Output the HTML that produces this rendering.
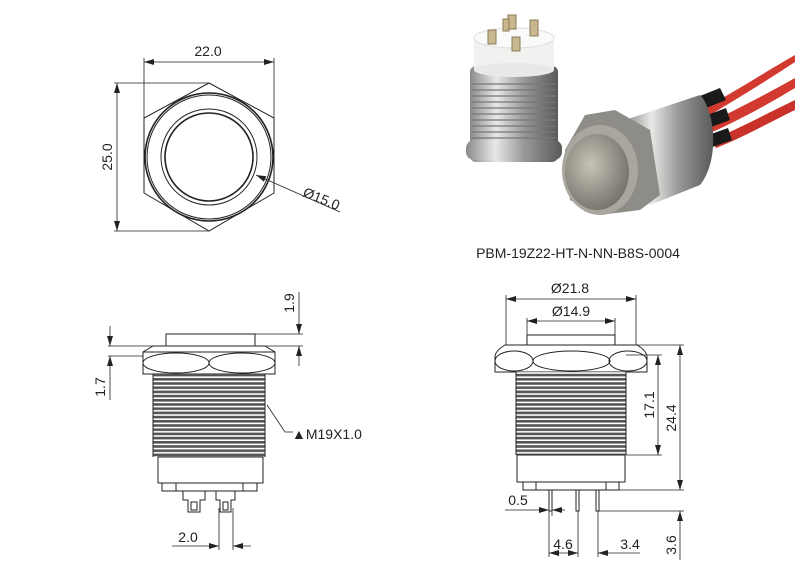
<!DOCTYPE html>
<html><head><meta charset="utf-8"><style>
html,body{margin:0;padding:0;background:#fff}
svg{display:block}
text{font-family:"Liberation Sans",sans-serif;font-size:14px;fill:#222}
</style></head><body>
<svg width="800" height="574" viewBox="0 0 800 574" xmlns="http://www.w3.org/2000/svg">
<defs>
<marker id="a" viewBox="0 0 10 6" refX="10" refY="3" markerWidth="10" markerHeight="6" orient="auto-start-reverse" markerUnits="userSpaceOnUse"><path d="M0,0L10,3L0,6z" fill="#222"/></marker>
<pattern id="th" width="8" height="4.2" patternUnits="userSpaceOnUse"><rect width="8" height="4.2" fill="#fff"/><rect y="0" width="8" height="2.6" fill="#555"/></pattern>
<linearGradient id="met" x1="0" x2="1"><stop offset="0" stop-color="#8a8a88"/><stop offset=".3" stop-color="#e8e8e6"/><stop offset=".6" stop-color="#9a9a98"/><stop offset="1" stop-color="#5a5a58"/></linearGradient>
<radialGradient id="face" cx=".4" cy=".4" r=".7"><stop offset="0" stop-color="#c8c3b8"/><stop offset="1" stop-color="#6e6a62"/></radialGradient>
</defs>
<g stroke="#222" fill="none" stroke-width="1">
<polygon points="209,83 274,118 274,193 209,231 144,193 144,118"/>
<circle cx="209" cy="157" r="64" stroke-width="1.6"/>
<circle cx="209" cy="157" r="62"/>
<circle cx="209" cy="157" r="48"/>
<circle cx="209" cy="157" r="44" stroke-width="1.6"/>
<line x1="144" y1="118" x2="144" y2="58" stroke-width=".8"/>
<line x1="274" y1="118" x2="274" y2="58" stroke-width=".8"/>
<line x1="144" y1="62" x2="274" y2="62" stroke-width=".8" marker-start="url(#a)" marker-end="url(#a)"/>
<line x1="114" y1="83" x2="209" y2="83" stroke-width=".8"/>
<line x1="114" y1="231" x2="209" y2="231" stroke-width=".8"/>
<line x1="117" y1="83" x2="117" y2="231" stroke-width=".8" marker-start="url(#a)" marker-end="url(#a)"/>
<line x1="340" y1="212" x2="256" y2="175" stroke-width=".8" marker-end="url(#a)"/>

<rect x="166" y="334" width="89" height="12"/>
<path d="M143,374 V352 L153,346 H265 L275,352 V374 Z"/>
<path d="M143,352 H275"/>
<ellipse cx="176" cy="363" rx="33" ry="10"/><ellipse cx="242" cy="363" rx="33" ry="10"/>
<rect x="153" y="374" width="112" height="83" fill="url(#th)" stroke="none"/>
<line x1="153" y1="374" x2="153" y2="457"/><line x1="265" y1="374" x2="265" y2="457"/>
<rect x="158" y="457" width="105" height="26"/>
<rect x="162" y="483" width="95" height="8"/>
<line x1="176" y1="483" x2="176" y2="491"/><line x1="243" y1="483" x2="243" y2="491"/>
<path d="M183,491 V500 H188 V512 H200 V500 H205 V491"/>
<path d="M216,491 V500 H220 V512 H231 V500 H235 V491"/>
<rect x="191" y="502" width="6" height="8"/><rect x="223" y="502" width="5" height="8"/>
<line x1="255" y1="334" x2="303" y2="334" stroke-width=".8"/>
<line x1="108" y1="346" x2="303" y2="346" stroke-width=".8"/>
<line x1="108" y1="356" x2="143" y2="356" stroke-width=".8"/>
<line x1="299" y1="292" x2="299" y2="334" stroke-width=".8" marker-end="url(#a)"/>
<line x1="299" y1="366" x2="299" y2="346" stroke-width=".8" marker-end="url(#a)"/>
<line x1="110" y1="326" x2="110" y2="346" stroke-width=".8" marker-end="url(#a)"/>
<line x1="110" y1="400" x2="110" y2="356" stroke-width=".8" marker-end="url(#a)"/>
<polyline points="267,405 285,432 293,432" stroke-width=".8"/>
<line x1="219" y1="508" x2="219" y2="550" stroke-width=".8"/>
<line x1="233" y1="508" x2="233" y2="550" stroke-width=".8"/>
<line x1="172" y1="546" x2="219" y2="546" stroke-width=".8" marker-end="url(#a)"/>
<line x1="251" y1="546" x2="233" y2="546" stroke-width=".8" marker-end="url(#a)"/>

<rect x="527" y="335" width="88" height="10"/>
<path d="M495,372 V357 Q495,351 505,345 H637 Q647,351 647,357 V372 Z"/>
<ellipse cx="514" cy="361" rx="19" ry="10"/><ellipse cx="571.5" cy="361" rx="38.5" ry="10"/><ellipse cx="628" cy="361" rx="19" ry="10"/>
<rect x="516" y="372" width="110" height="83" fill="url(#th)" stroke="none"/>
<line x1="516" y1="372" x2="516" y2="455"/><line x1="626" y1="372" x2="626" y2="455"/>
<rect x="517" y="455" width="108" height="27"/>
<rect x="523" y="482" width="96" height="8"/>
<line x1="536" y1="482" x2="536" y2="490"/><line x1="606" y1="482" x2="606" y2="490"/>
<rect x="549" y="490" width="3" height="21"/><rect x="576" y="490" width="3" height="21"/><rect x="596" y="490" width="3" height="21"/>
<line x1="506" y1="345" x2="506" y2="295" stroke-width=".8"/>
<line x1="636" y1="345" x2="636" y2="295" stroke-width=".8"/>
<line x1="506" y1="299" x2="636" y2="299" stroke-width=".8" marker-start="url(#a)" marker-end="url(#a)"/>
<line x1="527" y1="335" x2="527" y2="318" stroke-width=".8"/>
<line x1="615" y1="335" x2="615" y2="318" stroke-width=".8"/>
<line x1="527" y1="321" x2="615" y2="321" stroke-width=".8" marker-start="url(#a)" marker-end="url(#a)"/>
<line x1="626" y1="355" x2="662" y2="355" stroke-width=".8"/>
<line x1="626" y1="455" x2="662" y2="455" stroke-width=".8"/>
<line x1="658" y1="355" x2="658" y2="455" stroke-width=".8" marker-start="url(#a)" marker-end="url(#a)"/>
<line x1="637" y1="345" x2="684" y2="345" stroke-width=".8"/>
<line x1="619" y1="490" x2="684" y2="490" stroke-width=".8"/>
<line x1="680" y1="345" x2="680" y2="490" stroke-width=".8" marker-start="url(#a)" marker-end="url(#a)"/>
<line x1="599" y1="511" x2="684" y2="511" stroke-width=".8"/>
<line x1="680" y1="560" x2="680" y2="511" stroke-width=".8" marker-end="url(#a)"/>
<line x1="549" y1="511" x2="549" y2="557" stroke-width=".8"/>
<line x1="552" y1="511" x2="552" y2="516" stroke-width=".8"/>
<line x1="578" y1="511" x2="578" y2="557" stroke-width=".8"/>
<line x1="598" y1="511" x2="598" y2="557" stroke-width=".8"/>
<line x1="505" y1="510" x2="549" y2="510" stroke-width=".8" marker-end="url(#a)"/>
<line x1="565" y1="510" x2="552" y2="510" stroke-width=".8" marker-end="url(#a)"/>
<line x1="549" y1="553" x2="578" y2="553" stroke-width=".8" marker-start="url(#a)" marker-end="url(#a)"/>
<line x1="640" y1="553" x2="598" y2="553" stroke-width=".8" marker-end="url(#a)"/>
</g>

<g>
<rect x="470" y="66" width="88" height="96" rx="6" fill="url(#met)"/>
<g stroke="#777" stroke-width="1.2">
<line x1="472" y1="84" x2="556" y2="84"/><line x1="472" y1="90" x2="556" y2="90"/><line x1="472" y1="96" x2="556" y2="96"/><line x1="472" y1="102" x2="556" y2="102"/><line x1="472" y1="108" x2="556" y2="108"/><line x1="472" y1="114" x2="556" y2="114"/><line x1="472" y1="120" x2="556" y2="120"/><line x1="472" y1="126" x2="556" y2="126"/><line x1="472" y1="132" x2="556" y2="132"/><line x1="472" y1="138" x2="556" y2="138"/>
</g>
<rect x="466" y="140" width="96" height="20" rx="8" fill="url(#met)"/>
<rect x="474" y="38" width="80" height="32" fill="#f1f1ef"/>
<ellipse cx="514" cy="70" rx="40" ry="7" fill="#e8e8e6"/>
<ellipse cx="514" cy="38" rx="40" ry="10" fill="#fafafa" stroke="#ddd"/>
<g fill="#c9b88f" stroke="#8a7a55"><rect x="488" y="30" width="8" height="14"/><rect x="508" y="15" width="8" height="14"/><rect x="530" y="20" width="8" height="16"/><rect x="512" y="37" width="8" height="14"/><rect x="503" y="19" width="6" height="12"/></g>
<path d="M700,110 C730,95 760,75 795,55 L795,62 C765,82 735,100 705,118 Z" fill="#d23a30"/>
<path d="M705,125 C735,110 765,95 795,78 L795,88 C770,103 740,120 710,133 Z" fill="#d23a30"/>
<path d="M712,140 C740,128 770,112 795,100 L795,110 C770,122 742,138 716,148 Z" fill="#c8322a"/>
<path d="M690,100 L720,88 L726,100 L696,112 Z M694,120 L726,108 L730,120 L698,132 Z M700,138 L728,128 L732,140 L704,150 Z" fill="#1a1a1a"/>
<path d="M625,120 L700,95 C715,110 720,160 700,185 L650,205 Z" fill="url(#met)"/>
<path d="M585,115 L615,110 L650,130 L660,195 L640,210 L600,215 L570,200 L565,150 Z" fill="#8e8c86"/>
<ellipse cx="600" cy="170" rx="38" ry="45" fill="#a9a69e"/>
<ellipse cx="597" cy="172" rx="32" ry="38" fill="url(#face)"/>
</g>
<g>
<text x="208" y="56" text-anchor="middle">22.0</text>
<text transform="translate(112,157) rotate(-90)" text-anchor="middle">25.0</text>
<text transform="translate(302,196) rotate(22)">Ø15.0</text>
<text x="578" y="258" text-anchor="middle">PBM-19Z22-HT-N-NN-B8S-0004</text>
<text transform="translate(294,303) rotate(-90)" text-anchor="middle">1.9</text>
<text transform="translate(105,387) rotate(-90)" text-anchor="middle">1.7</text>
<text x="292" y="439">▲M19X1.0</text>
<text x="188" y="542" text-anchor="middle">2.0</text>
<text x="570" y="293" text-anchor="middle">Ø21.8</text>
<text x="571" y="316" text-anchor="middle">Ø14.9</text>
<text transform="translate(654,405) rotate(-90)" text-anchor="middle">17.1</text>
<text transform="translate(676,418) rotate(-90)" text-anchor="middle">24.4</text>
<text x="518" y="505" text-anchor="middle">0.5</text>
<text x="563" y="549" text-anchor="middle">4.6</text>
<text x="630" y="549" text-anchor="middle">3.4</text>
<text transform="translate(676,545) rotate(-90)" text-anchor="middle">3.6</text>
</g>
</svg>
</body></html>
